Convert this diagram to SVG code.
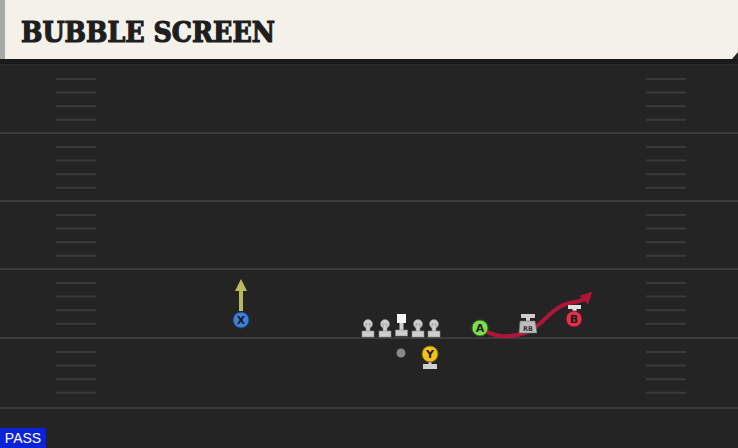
<svg xmlns="http://www.w3.org/2000/svg" width="738" height="448" viewBox="0 0 738 448">
<style>
.yl{stroke:#3c3c3c;stroke-width:2}
.hash{stroke:#3a3a3a;stroke-width:2}
.ol{fill:#cfcfcf;stroke:#8a8a8a;stroke-width:0.6}
.lbl{font-family:"DejaVu Sans","Liberation Sans",sans-serif;font-weight:bold;font-size:11px;text-anchor:middle;fill:#1b1b1b}
</style>
<defs>
<marker id="ahY" viewBox="0 0 10 10" refX="5" refY="5" markerWidth="3" markerHeight="3" orient="auto"><path d="M0,0 L10,5 L0,10 z" fill="#b8b85e"/></marker>
<marker id="ahR" viewBox="0 0 10 10" refX="5" refY="5" markerWidth="3" markerHeight="3" orient="auto"><path d="M0,0 L10,5 L0,10 z" fill="#b0143a"/></marker>
<g id="hashset">
<line class="hash" x1="0" y1="0" x2="40" y2="0"/>
<line class="hash" x1="0" y1="13.6" x2="40" y2="13.6"/>
<line class="hash" x1="0" y1="27.2" x2="40" y2="27.2"/>
<line class="hash" x1="0" y1="40.8" x2="40" y2="40.8"/>
</g>
</defs>
<rect width="738" height="448" fill="#242424"/>
<g id="field">
<rect x="0" y="59" width="738" height="5" fill="#1a1a1a"/>
<line x1="0" y1="65" x2="738" y2="65" stroke="#333" stroke-width="1"/>
<line class="yl" x1="0" y1="133" x2="738" y2="133"/>
<line class="yl" x1="0" y1="201" x2="738" y2="201"/>
<line class="yl" x1="0" y1="269" x2="738" y2="269"/>
<line class="yl" x1="0" y1="338" x2="738" y2="338"/>
<line class="yl" x1="0" y1="408" x2="738" y2="408"/>
<use href="#hashset" x="56" y="79"/>
<use href="#hashset" x="56" y="147"/>
<use href="#hashset" x="56" y="215"/>
<use href="#hashset" x="56" y="283"/>
<use href="#hashset" x="56" y="352"/>
<use href="#hashset" x="646" y="79"/>
<use href="#hashset" x="646" y="147"/>
<use href="#hashset" x="646" y="215"/>
<use href="#hashset" x="646" y="283"/>
<use href="#hashset" x="646" y="352"/>
</g>
<g id="header">
<path d="M0,0 H738 V52 L732,59 H0 Z" fill="#f4f1ea"/>
<rect x="0" y="0" width="5" height="59" fill="#a8aaa8"/>
<text x="21" y="42" font-family="DejaVu Serif" font-weight="bold" font-size="27" fill="#1e1e1e" stroke="#1e1e1e" stroke-width="1.2" textLength="254" lengthAdjust="spacingAndGlyphs">BUBBLE SCREEN</text>
</g>
<g id="connectors">
<line x1="241" y1="311" x2="241" y2="285" stroke="#b8b85e" stroke-width="4" marker-end="url(#ahY)"/>
<path d="M486,331 C495,337 510,338 525,333 C545,326 550,305 575,302 C582,301 586,298 588,296" fill="none" stroke="#b0143a" stroke-width="4" marker-end="url(#ahR)"/>
</g>
<g id="OL">
<g class="ol"><circle cx="368" cy="324" r="4.5"/><rect x="366" y="324" width="4" height="8"/><rect x="362" y="331" width="12" height="6"/></g>
<g class="ol"><circle cx="385" cy="324" r="4.5"/><rect x="383" y="324" width="4" height="8"/><rect x="379" y="331" width="12" height="6"/></g>
<g class="ol"><circle cx="418" cy="324" r="4.5"/><rect x="416" y="324" width="4" height="8"/><rect x="412" y="331" width="12" height="6"/></g>
<g class="ol"><circle cx="434" cy="324" r="4.5"/><rect x="432" y="324" width="4" height="8"/><rect x="428" y="331" width="12" height="6"/></g>
</g>
<g id="C"><rect x="397" y="314" width="9" height="9" fill="#f5f5f5"/><rect x="399.5" y="323" width="4" height="8" fill="#cfcfcf"/><rect x="395.5" y="330" width="12" height="6" fill="#cfcfcf" stroke="#8a8a8a" stroke-width="0.6"/></g>
<g id="QB"><circle cx="401" cy="353" r="4.5" fill="#8a8a8a"/></g>
<g id="X"><circle cx="241" cy="320" r="8" fill="#3f7fdc" stroke="#1c3e7a" stroke-width="1"/><text class="lbl" x="241" y="324">X</text></g>
<g id="Y"><rect x="423" y="364" width="14" height="5" fill="#cfcfcf"/><rect x="428.5" y="360" width="3" height="5" fill="#cfcfcf"/><circle cx="430" cy="354" r="8" fill="#f2c21c" stroke="#8a6a00" stroke-width="1"/><text class="lbl" x="430" y="358">Y</text></g>
<g id="A"><circle cx="480" cy="328" r="8" fill="#7fdc4e" stroke="#2f6a1a" stroke-width="1"/><text class="lbl" x="480" y="332">A</text></g>
<g id="RB"><rect x="521" y="314" width="14" height="4" fill="#cfcfcf"/><rect x="526" y="317" width="4" height="4" fill="#cfcfcf"/><path d="M520,321 H535 L537,333 H519 Z" fill="#bdbdbd" stroke="#6a6a6a" stroke-width="0.6"/><text x="528" y="331" font-family="DejaVu Sans" font-weight="bold" font-size="6.5" text-anchor="middle" fill="#333">RB</text></g>
<g id="B"><rect x="568" y="305" width="13" height="4" fill="#e0e0e0"/><rect x="572.5" y="308" width="4" height="4" fill="#e0e0e0"/><circle cx="574" cy="319" r="8" fill="#e0334a" stroke="#7a1020" stroke-width="1"/><text class="lbl" x="574" y="323">B</text></g>
<g id="pass"><rect x="0" y="428" width="46" height="20" fill="#0a22d8"/><text x="23" y="443" font-family="Liberation Sans" font-size="14" text-anchor="middle" fill="#ffffff">PASS</text></g>
</svg>
